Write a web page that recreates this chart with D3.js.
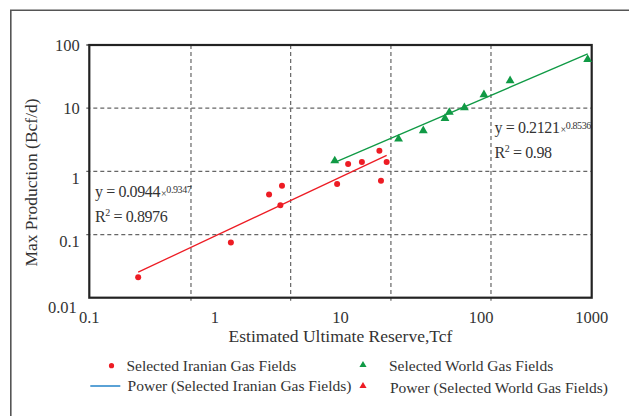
<!DOCTYPE html>
<html>
<head>
<meta charset="utf-8">
<script src="https://cdn.jsdelivr.net/npm/d3@7"></script>
<style>
  body { margin: 0; background: #fff; }
  svg text { font-family: "Liberation Serif", "Times New Roman", serif; fill: #333; }
</style>
</head>
<body>
<div id="chart"></div>
<script>
const width = 629,
    height = 416,
    margin = {top: 45, right: 37.3, bottom: 118.3, left: 89.3};

// Selected Iranian gas fields: reserve (Tcf) vs max production (Bcf/d)
const iranX = [0.245, 1.34, 2.70, 3.42, 3.32, 9.4, 11.5, 14.8, 20.4, 21.0, 23.3];
const iranY = [0.021, 0.075, 0.43, 0.59, 0.29, 0.63, 1.31, 1.41, 2.12, 0.71, 1.41];

// Selected world gas fields
const worldX = [9.0, 29.0, 45.6, 67.9, 73.5, 96.9, 138.7, 224, 929];
const worldY = [1.47, 3.25, 4.4, 6.9, 8.6, 10.2, 16.4, 27.2, 59.3];

// power trendlines  y = a * x^b
const iranFit = {a: 0.0944, b: 0.9347, r2: "0.8976"};
const worldFit = {a: 0.2121, b: 0.8536, r2: "0.98"};

const xTicks = [0.1, 1, 10, 100, 1000];
const yTicks = [100, 10, 1, 0.1, 0.01];
const xGrid = [0.645, 4.01, 25.2, 157.8];   // gridlines as drawn in the figure
const yGrid = [10, 1, 0.1];

const red = "#ed1c24",
    green = "#109a45",
    blue = "#0070c0";

let svg = d3.select("#chart").append("svg")
    .attr("width", width)
    .attr("height", height);

// outer frame (runs off the right and bottom edge)
svg.append("path")
    .attr("d", `M10.8,${height + 5}V10.3H${width + 5}`)
    .attr("fill", "none")
    .attr("stroke", "#555")
    .attr("stroke-width", 1.6);

let x = d3.scaleLog()
    .domain([0.1, 1000])
    .range([margin.left, width - margin.right]);

let y = d3.scaleLog()
    .domain([0.01, 100])
    .range([height - margin.bottom, margin.top]);

// grid
let grid = svg.append("g")
    .attr("stroke", "#666")
    .attr("stroke-width", 1.2)
    .attr("stroke-dasharray", "4,3");

grid.selectAll("line.gx")
    .data(xGrid)
  .join("line")
    .attr("class", "gx")
    .attr("x1", d => x(d))
    .attr("x2", d => x(d))
    .attr("y1", y(100))
    .attr("y2", y(0.01) + 3);

grid.selectAll("line.gy")
    .data(yGrid)
  .join("line")
    .attr("class", "gy")
    .attr("x1", x(0.1) - 3)
    .attr("x2", x(1000))
    .attr("y1", d => y(d))
    .attr("y2", d => y(d));

// small tick at top of y axis
svg.append("line")
    .attr("x1", x(0.1) - 3)
    .attr("x2", x(0.1))
    .attr("y1", y(100))
    .attr("y2", y(100))
    .attr("stroke", "#222")
    .attr("stroke-width", 1.2);

// plot frame
svg.append("rect")
    .attr("x", x(0.1))
    .attr("y", y(100))
    .attr("width", x(1000) - x(0.1))
    .attr("height", y(0.01) - y(100))
    .attr("fill", "none")
    .attr("stroke", "#222")
    .attr("stroke-width", 2.2);

// tick labels
svg.selectAll("text.xt")
    .data(xTicks)
  .join("text")
    .attr("class", "xt")
    .attr("x", d => x(d) + (d === 100 ? 15 : 0))
    .attr("y", y(0.01) + 25.5)
    .attr("text-anchor", "middle")
    .attr("font-size", 16.5)
    .text(d => d);

svg.selectAll("text.yt")
    .data(yTicks)
  .join("text")
    .attr("class", "yt")
    .attr("x", d => d === 0.01 ? x(0.1) - 12.5 : x(0.1) - 9.5)
    .attr("y", d => y(d) + (d >= 10 ? 5.8 : 12.3) + (d === 0.01 ? 3 : 0))
    .attr("text-anchor", "end")
    .attr("font-size", 16.5)
    .text(d => d);

// axis titles
svg.append("text")
    .attr("x", (x(0.1) + x(1000)) / 2)
    .attr("y", 341.5)
    .attr("text-anchor", "middle")
    .attr("font-size", 17.5)
    .text("Estimated Ultimate Reserve,Tcf");

svg.append("text")
    .attr("transform", "translate(37.3,182.5) rotate(-90)")
    .attr("text-anchor", "middle")
    .attr("font-size", 17.5)
    .text("Max Production (Bcf/d)");

// trendlines
function fitLine(xs, fit, colour) {
    let ext = d3.extent(xs);
    svg.append("line")
        .attr("x1", x(ext[0]))
        .attr("y1", y(fit.a * Math.pow(ext[0], fit.b)))
        .attr("x2", x(ext[1]))
        .attr("y2", y(fit.a * Math.pow(ext[1], fit.b)))
        .attr("stroke", colour)
        .attr("stroke-width", 1.3);
}
fitLine(iranX, iranFit, red);
fitLine(worldX, worldFit, green);

// points
svg.append("g").selectAll("circle")
    .data(d3.zip(iranX, iranY))
  .join("circle")
    .attr("cx", d => x(d[0]))
    .attr("cy", d => y(d[1]))
    .attr("r", 3)
    .attr("fill", red);

let tri = d3.symbol().type(d3.symbolTriangle).size(34);
svg.append("g").selectAll("path")
    .data(d3.zip(worldX, worldY))
  .join("path")
    .attr("d", tri)
    .attr("transform", d => `translate(${x(d[0])},${y(d[1])})`)
    .attr("fill", green);

// equations
function equation(px, py, fit) {
    let t = svg.append("text")
        .attr("x", px)
        .attr("y", py)
        .attr("font-size", 16)
        .attr("letter-spacing", -0.4);
    t.append("tspan").text("y = " + fit.a);
    t.append("tspan").attr("font-size", 10).attr("dx", 1).text("×");
    t.append("tspan").attr("font-size", 10).attr("dy", -4).text(fit.b);

    let r = svg.append("text")
        .attr("x", px)
        .attr("y", py + 24.5)
        .attr("font-size", 16)
        .attr("letter-spacing", -0.4);
    r.append("tspan").text("R");
    r.append("tspan").attr("font-size", 10).attr("dy", -6).text("2");
    r.append("tspan").attr("dy", 6).text(" = " + fit.r2);
}
equation(95, 197.3, iranFit);
equation(494.5, 133.3, worldFit);

// legend
let legend = svg.append("g").attr("font-size", 15.5);

legend.append("circle")
    .attr("cx", 111.5).attr("cy", 365.7).attr("r", 2.6)
    .attr("fill", red);
legend.append("text")
    .attr("x", 126.4).attr("y", 371)
    .attr("font-size", 15.5)
    .text("Selected Iranian Gas Fields");

legend.append("line")
    .attr("x1", 90.3).attr("x2", 120.3)
    .attr("y1", 386).attr("y2", 386)
    .attr("stroke", blue).attr("stroke-width", 1.3);
legend.append("text")
    .attr("x", 127.6).attr("y", 391)
    .attr("font-size", 15.5)
    .text("Power (Selected Iranian Gas Fields)");

let legTri = d3.symbol().type(d3.symbolTriangle).size(22);
legend.append("path")
    .attr("d", legTri)
    .attr("transform", "translate(363,365)")
    .attr("fill", green);
legend.append("text")
    .attr("x", 389).attr("y", 371)
    .attr("font-size", 15.5)
    .text("Selected World Gas Fields");

legend.append("path")
    .attr("d", legTri)
    .attr("transform", "translate(363,386)")
    .attr("fill", red);
legend.append("text")
    .attr("x", 390).attr("y", 393)
    .attr("font-size", 15.5)
    .text("Power (Selected World Gas Fields)");
</script>
</body>
</html>
